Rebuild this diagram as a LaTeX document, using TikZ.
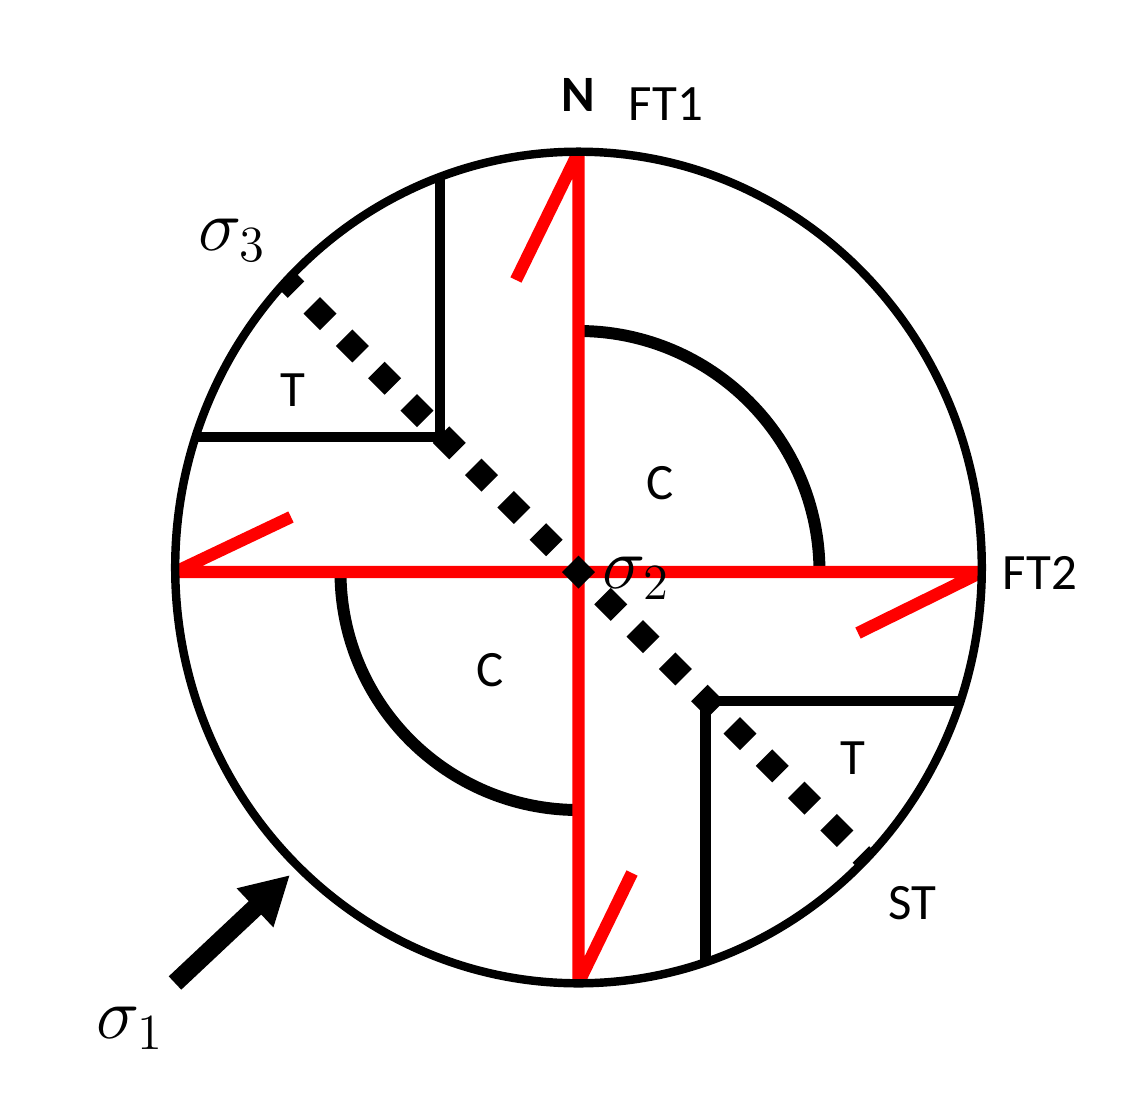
\documentclass[tikz,border=0pt]{standalone}
\usepackage{amsmath}
\usepackage{fontspec}
\setmainfont{Carlito}
\usepackage{tikz}
\usetikzlibrary{arrows.meta,calc}

\begin{document}
\begin{tikzpicture}[
    fault/.style={red, line width=3.5pt, line join=bevel},
    rim/.style={line width=2.4pt},
    arcline/.style={line width=3.4pt},
    boxline/.style={line width=3pt},
    lbl/.style={font=\fontsize{14.5}{17}\selectfont, inner sep=0pt},
    sig/.style={font=\fontsize{20.74}{24}\selectfont, inner sep=0pt}
]
    % 画布
    \useasboundingbox[fill=white] (-5.785,-5.30) rectangle (5.645,5.72);

    % 压缩区弧线
    \draw[arcline] (0,2.41) arc[start angle=90, end angle=0, radius=2.41];
    \draw[arcline] (-2.38,0) arc[start angle=180, end angle=270, radius=2.38];

    % 张性区边界
    \begin{scope}
        \clip (0,0.045) ellipse [x radius=4.033, y radius=4.158];
        \draw[boxline] (-1.385,4.5) |- (-4.5,1.35);
        \draw[boxline] (1.27,-4.5) |- (4.5,-1.29);
    \end{scope}

    % 断层（红线）
    \draw[fault] (-0.625,2.92) -- (0,4.2) -- (0,-4.11) -- (0.535,-3.01);
    \draw[fault] (-2.875,0.55) -- (-4.033,0) -- (4.033,0) -- (2.795,-0.61);

    % 外圆
    \draw[rim] (0,0.045) ellipse [x radius=4.033, y radius=4.158];

    % 最小主应力方向
    \begin{scope}
        \clip (0,0.045) ellipse [x radius=4.033, y radius=4.158];
        \foreach \k in {-9,...,9}
            \fill ({0.323*\k},{-0.323*\k}) +(0.165,0) -- +(0,0.165) -- +(-0.165,0) -- +(0,-0.165) -- cycle;
    \end{scope}

    % 标注
    \node[lbl, font=\fontsize{14.5}{17}\selectfont\bfseries] (N) at (0,4.77) {N};
    \node[lbl] (FT1) at (0.875,4.68) {FT1};
    \node[lbl] (FT2) at (4.615,-0.01) {FT2};
    \node[lbl] (ST) at (3.335,-3.31) {ST};
    \node[lbl] (C1) at (0.815,0.89) {C};
    \node[lbl] (C2) at (-0.885,-0.98) {C};
    \node[lbl] (T1) at (-2.855,1.82) {T};
    \node[lbl] (T2) at (2.745,-1.86) {T};
    \node[sig] (s3) at (-3.465,3.32) {$\sigma_3$};
    \node[sig] (s2) at (0.575,-0.06) {$\sigma_2$};
    \node[sig] (s1) at (-4.485,-4.56) {$\sigma_1$};

    % sigma1 箭头
    \coordinate (a1) at (-4.035,-4.11);
    \coordinate (a2) at (-2.885,-3.03);
    \draw[line width=5.2pt, -{Triangle[length=0.48cm, width=0.5cm]}] (a1) -- (a2);
\end{tikzpicture}
\end{document}
